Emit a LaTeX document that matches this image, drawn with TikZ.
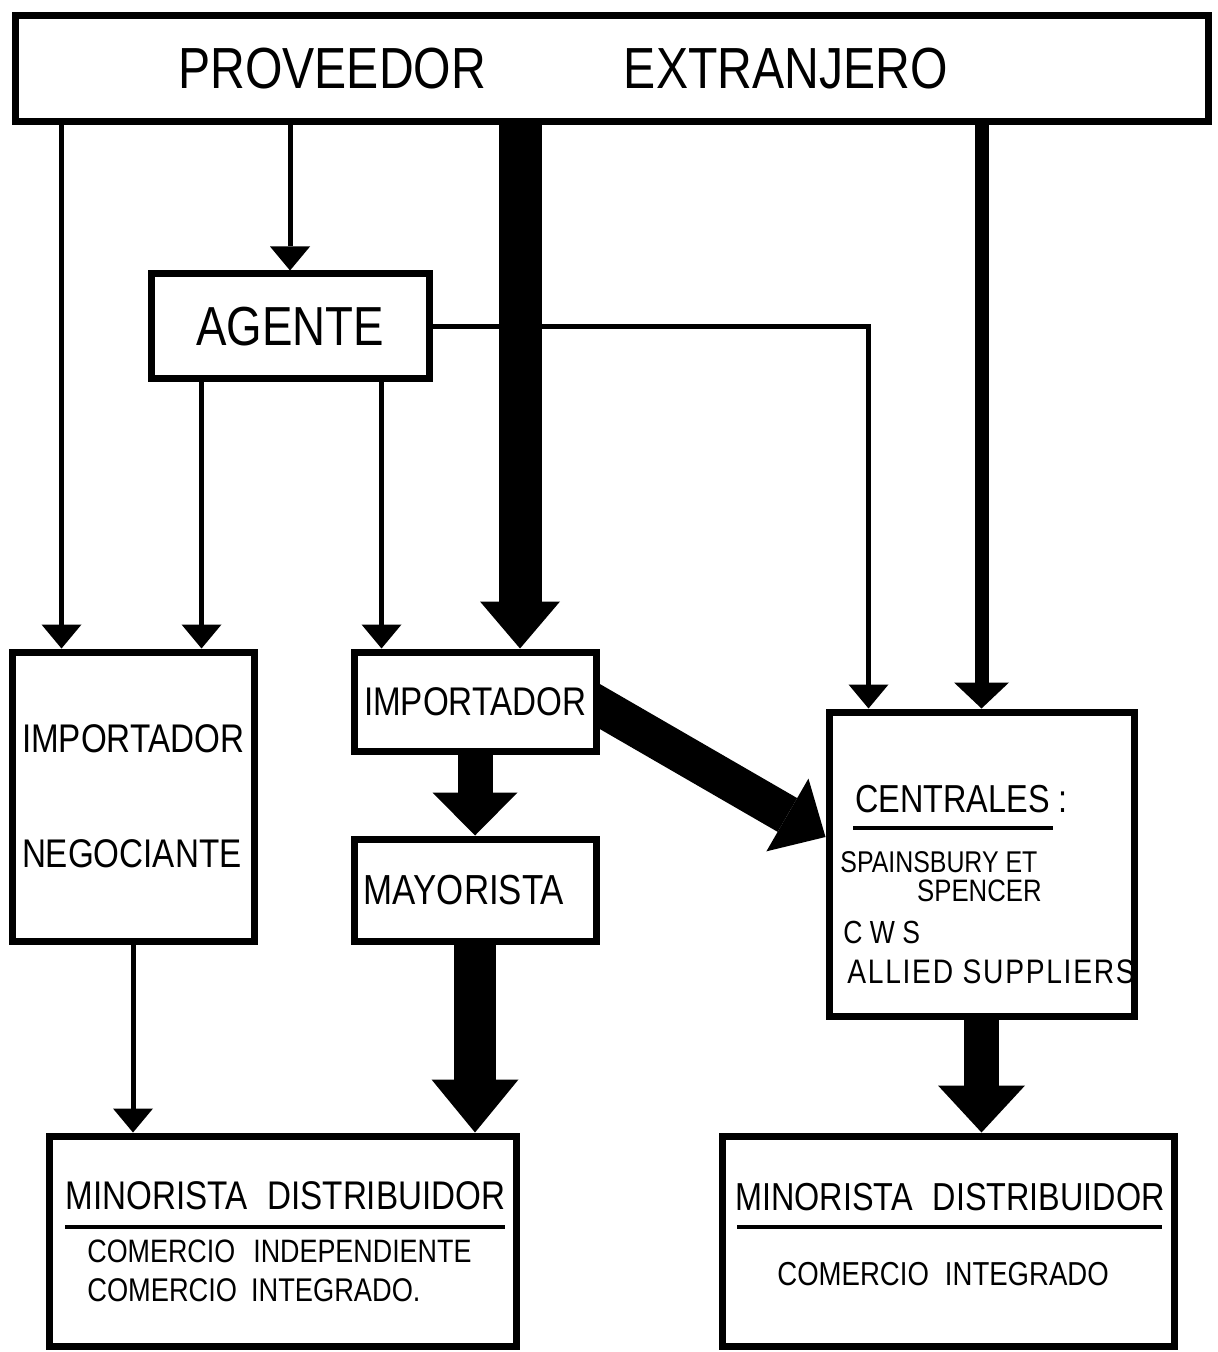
\documentclass[tikz,border=0pt]{standalone}
\usepackage{fontspec}
\setmainfont{Liberation Sans}[FakeStretch=0.83]
\usepackage{tikz}
\usetikzlibrary{arrows.meta,calc,backgrounds}
\tikzset{
  chbox/.style={draw,line width=3.5pt,fill=white,inner sep=0pt,align=center},
  chtext/.style={inner sep=0pt,align=left},
  chrule/.style={line width=2pt},
  thinflow/.style={line width=2.5pt,-{Triangle[width=20pt,length=12pt,line width=0pt]}},
  fatflow/.style n args={3}{line width=#1,-{Triangle[width=#2,length=#3,line width=0pt]}}
}
\newcommand{\fs}[1]{\fontsize{#1}{1.2\dimexpr#1\relax}\selectfont}

\begin{document}
\begin{tikzpicture}[x=0.5pt,y=-0.5pt]
  \useasboundingbox (0,0) rectangle (1217,1352);
  \node[chbox,minimum width=596.5pt,minimum height=53pt,font=\fs{29pt}] (top) at (612,68.5) {PROVEEDOR\hspace{69pt}EXTRANJERO\hspace*{49pt}};
  \node[chbox,minimum width=139pt,minimum height=52.5pt,font=\fs{27.5pt}] (ag) at (290,326.5) {AGENTE};
  \node[chbox,minimum width=121pt,minimum height=144.5pt,align=left,font=\fontsize{20pt}{57.5pt}\selectfont] (neg) at (133,796.5) {IMPORTADOR\\NEGOCIANTE};
  \node[chbox,minimum width=121pt,minimum height=49.5pt,font=\fs{20pt}] (imp) at (475,701.5) {IMPORTADOR};
  \node[chbox,minimum width=121pt,minimum height=51pt,font=\fs{21pt}] (may) at (475,890) {MAYORISTA\hspace*{11pt}};
  \node[chbox,minimum width=152.5pt,minimum height=152pt] (cent) at (981.5,864) {};
  \node[chbox,minimum width=233.5pt,minimum height=105pt] (minL) at (282.5,1241) {};
  \node[chbox,minimum width=226pt,minimum height=105pt] (minR) at (948,1241) {};

  \node[chtext,anchor=west,font=\fs{19.5pt}] (centT) at (855,799) {CENTRALES :};
  \draw[chrule] (853,828) -- (1053,828);
  \node[chtext,anchor=west,font=\fs{15pt}] (spain) at (840,862) {SPAINSBURY ET};
  \node[chtext,anchor=east,font=\fs{15.5pt}] (spen) at (1042,891) {SPENCER};
  \node[chtext,anchor=west,font=\fs{16pt}] (cws) at (843,932) {C W S};
  \node[chtext,anchor=west,font=\fs{17pt}\addfontfeature{LetterSpace=5}] (allied) at (847,972) {ALLIED SUPPLIERS};

  \node[chtext,anchor=west,font=\fs{20pt}] (minLT) at (65,1196) {MINORISTA\hspace{10pt}DISTRIBUIDOR};
  \draw[chrule] (65,1227) -- (505,1227);
  \node[chtext,anchor=west,font=\fs{16.2pt}] (indep) at (87,1251) {COMERCIO\hspace{9pt}INDEPENDIENTE};
  \node[chtext,anchor=west,font=\fs{16.4pt}] (integL) at (87,1290) {COMERCIO\hspace{7pt}INTEGRADO.};

  \node[chtext,anchor=west,font=\fs{19.5pt}] (minRT) at (735,1197) {MINORISTA\hspace{10pt}DISTRIBUIDOR};
  \draw[chrule] (737,1227) -- (1162,1227);
  \node[chtext,anchor=west,font=\fs{16.6pt}] (integR) at (777,1274) {COMERCIO\hspace{8pt}INTEGRADO};

  \coordinate (negA) at ([xshift=26.5pt]neg.north west);
  \coordinate (negB) at ([xshift=-28pt]neg.north east);
  \coordinate (impA) at ([xshift=15.5pt]imp.north west);
  \coordinate (impB) at ([xshift=22.5pt]imp.north);
  \coordinate (cenA) at ([xshift=21.5pt]cent.north west);

  \begin{scope}[on background layer]
    \draw[thinflow] (negA |- top.south) -- (negA);
    \draw[thinflow] (top.south -| ag.north) -- (ag.north);
    \draw[thinflow] (negB |- ag.south) -- (negB);
    \draw[thinflow] (impA |- ag.south) -- (impA);
    \draw[thinflow] (ag.east) -| (cenA);
    \draw[fatflow={21.5pt}{40pt}{23.5pt}] (impB |- top.south) -- (impB);
    \draw[fatflow={7pt}{27.5pt}{13pt}] (top.south -| cent.north) -- (cent.north);
    \draw[fatflow={17.5pt}{42.5pt}{21.5pt}] (imp.south) -- (may.north);
    \draw[fatflow={19.5pt}{42pt}{22pt}] ([xshift=-18pt,yshift=8pt]imp.east) -- ([yshift=13.5pt]cent.west);
    \draw[thinflow] (neg.south) -- (neg.south |- minL.north);
    \draw[fatflow={21pt}{43.5pt}{26.5pt}] (may.south) -- (may.south |- minL.north);
    \draw[fatflow={17.5pt}{43.5pt}{23.5pt}] (cent.south) -- (cent.south |- minR.north);
  \end{scope}
\end{tikzpicture}
\end{document}
